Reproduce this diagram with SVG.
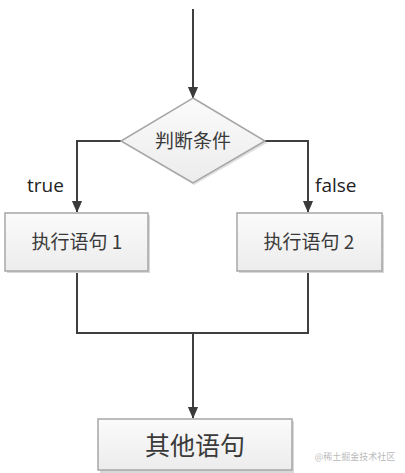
<svg xmlns="http://www.w3.org/2000/svg" width="405" height="473" viewBox="0 0 405 473">
<defs>
<linearGradient id="g" x1="0" y1="0" x2="0" y2="1">
<stop offset="0" stop-color="#fbfbfb"/>
<stop offset="1" stop-color="#ececec"/>
</linearGradient>
<marker id="arr" markerWidth="12" markerHeight="14" refX="13" refY="6" orient="auto" markerUnits="userSpaceOnUse" viewBox="0 0 14 12">
<path d="M0,0 L14,6 L0,12 Z" fill="#3a3a3a"/>
</marker>
</defs>
<style>
.ln{fill:none;stroke:#3f3f3f;stroke-width:2}
.box{fill:url(#g);stroke:#a6a6a6;stroke-width:1.5}
.sh{fill:#d8d8d8}
.t{font-family:"Noto Sans CJK SC","Liberation Sans",sans-serif;fill:#3a3a3a;text-anchor:middle}
.lab{font-family:"Open Sans","Liberation Sans",sans-serif;fill:#222;font-size:19px}
</style>
<rect width="405" height="473" fill="#fff"/>
<g id="connectors">
<line class="ln" x1="193" y1="9" x2="193" y2="98" marker-end="url(#arr)"/>
<polyline class="ln" points="121,141 77,141 77,212" marker-end="url(#arr)"/>
<polyline class="ln" points="265,141 308,141 308,212" marker-end="url(#arr)"/>
<polyline class="ln" points="77,271 77,333 308,333 308,271"/>
<line class="ln" x1="193" y1="333" x2="193" y2="418" marker-end="url(#arr)"/>
</g>
<g id="cond">
<polygon points="194,100 267,143 194,185 123,143" fill="#e0e0e0"/>
<polygon class="box" points="193,98 265,141 193,183 121,141"/>
<text class="t" x="193" y="148" font-size="19">判断条件</text>
</g>
<text class="lab" x="27" y="192">true</text>
<text class="lab" x="315" y="192">false</text>
<g id="stmt1">
<rect class="sh" x="7" y="215" width="143" height="58"/>
<rect class="box" x="5" y="213" width="143" height="58"/>
<text class="t" x="77" y="249" font-size="19">执行语句 1</text>
</g>
<g id="stmt2">
<rect class="sh" x="239" y="215" width="145" height="58"/>
<rect class="box" x="237" y="213" width="145" height="58"/>
<text class="t" x="309" y="249" font-size="19">执行语句 2</text>
</g>
<g id="other">
<rect class="sh" x="100" y="421" width="194" height="52"/>
<rect class="box" x="98" y="419" width="194" height="51"/>
<text class="t" x="195" y="455" font-size="25">其他语句</text>
</g>
<text x="355" y="460" font-family="Noto Sans CJK SC, sans-serif" font-size="9" fill="#bbb" text-anchor="middle">@稀土掘金技术社区</text>
</svg>
